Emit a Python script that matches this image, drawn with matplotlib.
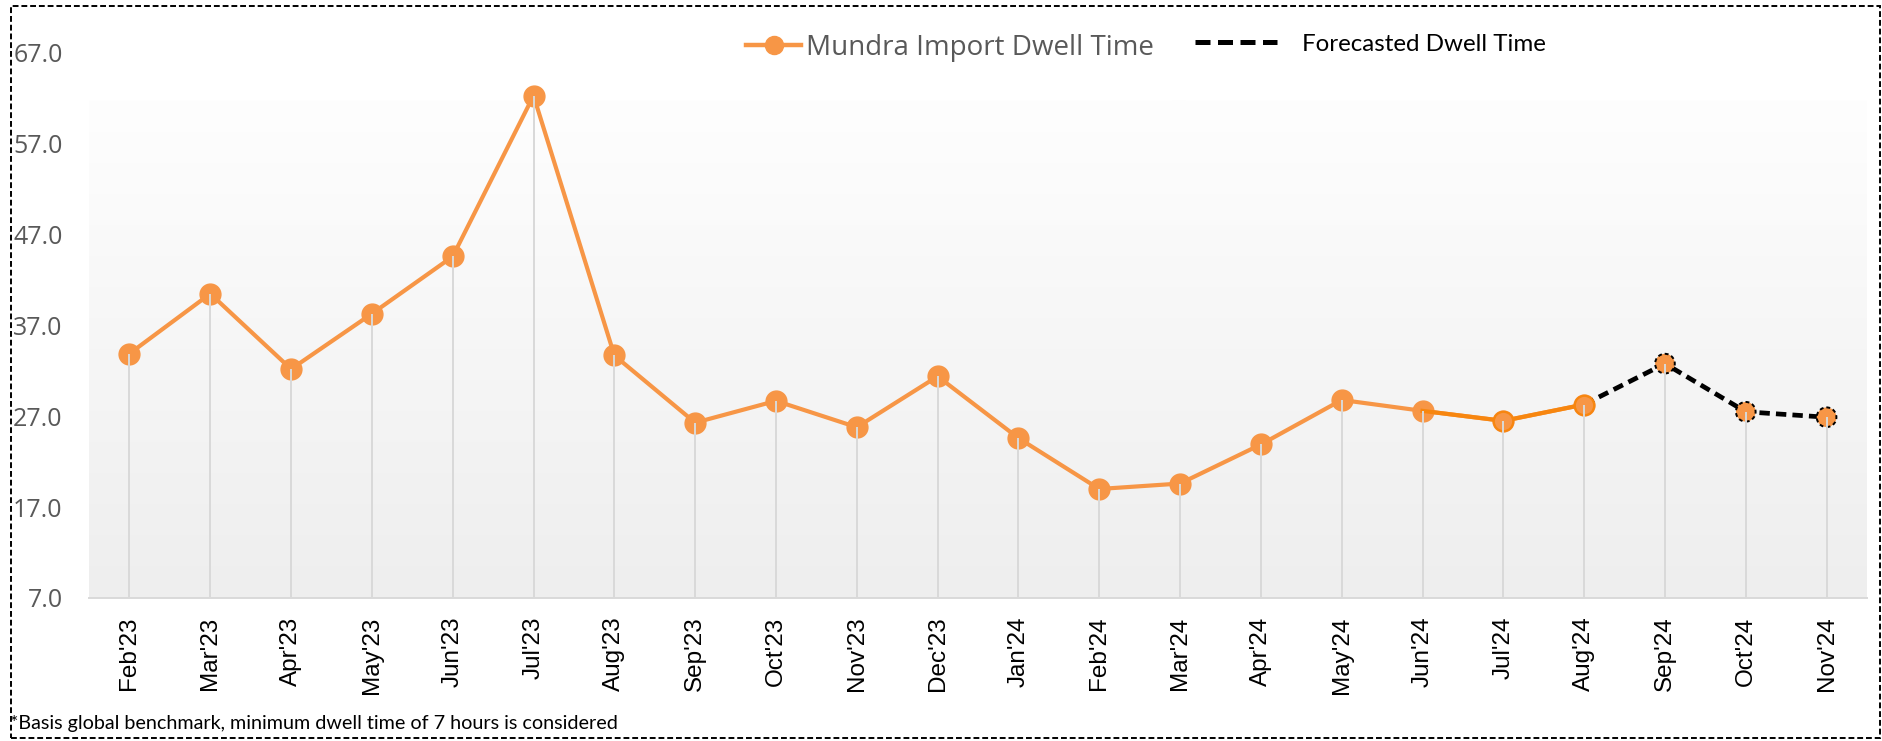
import matplotlib
matplotlib.use("Agg")
import matplotlib.pyplot as plt
import numpy as np
from matplotlib.lines import Line2D
from matplotlib.patches import Rectangle

months = ["Feb'23", "Mar'23", "Apr'23", "May'23", "Jun'23", "Jul'23", "Aug'23",
          "Sep'23", "Oct'23", "Nov'23", "Dec'23", "Jan'24", "Feb'24", "Mar'24",
          "Apr'24", "May'24", "Jun'24", "Jul'24", "Aug'24", "Sep'24", "Oct'24", "Nov'24"]
# actual dwell time (hours), Feb'23 - Aug'24
actual = [33.9, 40.5, 32.2, 38.3, 44.6, 62.3, 33.7, 26.3, 28.7, 25.8, 31.4,
          24.6, 19.0, 19.6, 23.9, 28.8, 27.6, 26.5, 28.3]
# forecast, starting from the last actual month
forecast = [28.3, 32.8, 27.5, 26.9]
yticks = [7.0, 17.0, 27.0, 37.0, 47.0, 57.0, 67.0]

orange = "#f79646"
dark_orange = "#f7860f"

fig = plt.figure(figsize=(18.83, 7.41), dpi=100)
ax = fig.add_axes([0.0473, 0.193, 0.9442, 0.7355])

x = np.arange(len(months))
xa = x[:len(actual)]
xf = x[len(actual) - 1:]

# background gradient
grad = np.linspace(0, 1, 256).reshape(-1, 1)
cmap = matplotlib.colors.LinearSegmentedColormap.from_list("bg", ["#fefefe", "#eeeeee"])
ax.imshow(grad, cmap=cmap, aspect="auto", extent=(0, 1, 0, 0.912),
          transform=ax.transAxes, zorder=0, origin="upper")

values = actual + forecast[1:]
ax.vlines(x, 7, values, color="#d9d9d9", lw=1.4, zorder=6)

ax.plot(xa, actual, color=orange, lw=3.0, marker="o", ms=15, mfc=orange, mec=orange,
        zorder=3, solid_capstyle="round")
# last three months highlighted
ax.plot(xa[-3:], actual[-3:], color=dark_orange, lw=3.0, zorder=4)
ax.plot(xa[-2:], actual[-2:], ls="none", marker="o", ms=14, mfc=orange, mec=dark_orange,
        mew=1.6, zorder=5)

ax.plot(xf, forecast, color="black", lw=3.4, ls=(0, (2.2, 1.3)), zorder=4)
ax.scatter(xf[1:], forecast[1:], s=200, facecolor=orange, edgecolor="black",
           linewidths=1.4, linestyle=(0, (2, 1.5)), zorder=5)

ax.set_xlim(-0.5, len(months) - 0.5)
ax.set_ylim(7, 67)
ax.set_yticks(yticks)
ax.set_yticklabels([f"{v:.1f}" for v in yticks], family="Open Sans")
ax.set_xticks(x)
ax.set_xticklabels(months, rotation=90, family="Liberation Sans")
ax.tick_params(axis="x", length=0, pad=13.5, labelsize=17.5, labelcolor="black")
ax.tick_params(axis="y", length=0, pad=19, labelsize=18, labelcolor="#595959")
for s in ["top", "right", "left"]:
    ax.spines[s].set_visible(False)
ax.spines["bottom"].set_color("#d9d9d9")
ax.spines["bottom"].set_linewidth(1.4)
ax.set_facecolor("white")

h1 = Line2D([], [], color=orange, lw=3.2, marker="o", ms=13, mfc=orange, mec=orange)
leg1 = ax.legend([h1], ["Mundra Import Dwell Time"], loc="center left",
                 bbox_to_anchor=(0.3962, 0.935), bbox_transform=fig.transFigure,
                 frameon=False, borderpad=0, borderaxespad=0, handlelength=1.98,
                 handletextpad=0.18, prop={"family": "Open Sans", "size": 20})
leg1.get_texts()[0].set_color("#595959")
ax.add_artist(leg1)

h2 = Line2D([], [], color="black", lw=3.6, ls=(0, (3, 1.5)))
leg2 = ax.legend([h2], ["Forecasted Dwell Time"], loc="center left",
                 bbox_to_anchor=(0.6346, 0.9406), bbox_transform=fig.transFigure,
                 frameon=False, borderpad=0, borderaxespad=0, handlelength=3.39,
                 handletextpad=1.03, prop={"family": "Lato", "size": 17.4})

fig.text(0.0053, 0.016, "*Basis global benchmark, minimum dwell time of 7 hours is considered",
         family="Lato", fontsize=14.2, color="black", ha="left", va="baseline")

# dashed frame around the whole chart
fig.patches.append(Rectangle((0.0058, 0.004), 0.9925, 0.988, transform=fig.transFigure,
                             fill=False, ec="black", lw=1.4, ls=(0, (3, 1.5))))

fig.savefig("out.png", dpi=100)
